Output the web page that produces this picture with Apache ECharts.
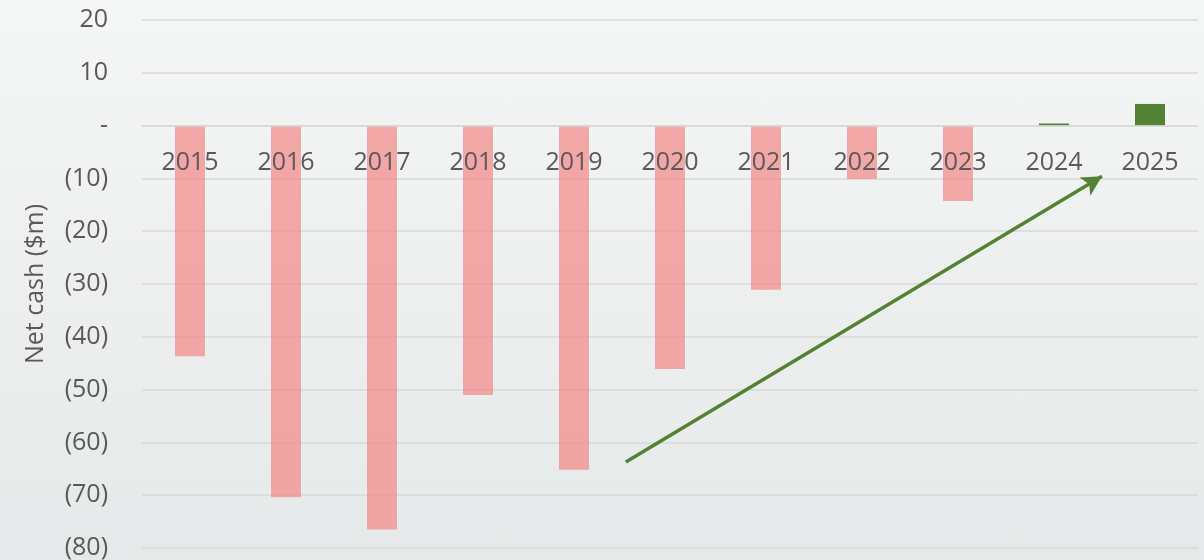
<!DOCTYPE html>
<html>
<head>
<meta charset="utf-8">
<script src="https://cdn.jsdelivr.net/npm/echarts@6/dist/echarts.min.js"></script>
<style>
  html, body { margin: 0; padding: 0; }
  #chart { width: 1204px; height: 560px; background: linear-gradient(#f5f6f6, #e6e9e9); }
</style>
</head>
<body>
<div id="chart"></div>
<script>
// data
const years = ['2015', '2016', '2017', '2018', '2019', '2020', '2021', '2022', '2023', '2024', '2025'];
const netCash = [-43.7, -70.4, -76.5, -51.0, -65.2, -46.1, -31.1, -10.1, -14.3, 0.4, 4.1];
// trend arrow, x in category units (0..11), y in $m
const arrowFrom = [5.04, -63.7];
const arrowTo = [10.0, -9.6];
const yMin = -80;
const yMax = 20;

const pink = 'rgba(243,134,134,0.7)';
const green = '#548235';
const textColor = '#595959';
const font = 'Open Sans';

let chartDom = document.getElementById('chart');
let myChart = echarts.init(chartDom);
let option;

const gridTop = 20;
const gridBottom = 12;
const gridBox = { left: 142, right: 6, top: gridTop, bottom: gridBottom, outerBoundsMode: 'none', containLabel: false };
// category axis sits on the zero line: move the top axis down by the distance from max to 0
const plotHeight = 560 - gridTop - gridBottom;
const zeroOffset = plotHeight * yMax / (yMax - yMin);

option = {
  backgroundColor: 'transparent',
  animation: false,
  grid: [Object.assign({}, gridBox), Object.assign({}, gridBox)],
  xAxis: [
    {
      type: 'category',
      gridIndex: 0,
      position: 'top',
      offset: -zeroOffset,
      data: years,
      z: 10,
      axisLine: { onZero: false, lineStyle: { color: '#d9d9d9', width: 1.5 } },
      axisTick: { show: false },
      axisLabel: { inside: true, margin: 25, color: textColor, fontFamily: font, fontSize: 25 }
    },
    {
      type: 'value',
      gridIndex: 1,
      show: false,
      min: 0,
      max: 11
    }
  ],
  yAxis: [
    {
      type: 'value',
      gridIndex: 0,
      min: yMin,
      max: yMax,
      interval: 10,
      name: 'Net cash ($m)',
      nameLocation: 'middle',
      nameGap: 94,
      nameTextStyle: { color: textColor, fontFamily: font, fontSize: 25 },
      axisLine: { show: false },
      axisTick: { show: false },
      axisLabel: {
        margin: 34,
        color: textColor,
        fontFamily: font,
        fontSize: 25,
        formatter: function (v) {
          if (v === 0) return '-';
          return v < 0 ? '(' + (-v) + ')' : String(v);
        }
      },
      splitLine: { lineStyle: { color: '#d9d9d9', width: 1.5 } }
    },
    {
      type: 'value',
      gridIndex: 1,
      show: false,
      min: yMin,
      max: yMax
    }
  ],
  series: [
    {
      type: 'bar',
      barWidth: 30,
      data: netCash.map(function (v) {
        return { value: v, itemStyle: { color: v < 0 ? pink : green } };
      })
    },
    {
      type: 'line',
      xAxisIndex: 1,
      yAxisIndex: 1,
      data: [],
      markLine: {
        silent: true,
        symbol: ['none', 'arrow'],
        symbolSize: [16, 20],
        label: { show: false },
        lineStyle: { color: green, width: 3.5, type: 'solid' },
        data: [[{ coord: arrowFrom }, { coord: arrowTo }]]
      }
    }
  ]
};
option && myChart.setOption(option);
</script>
</body>
</html>
